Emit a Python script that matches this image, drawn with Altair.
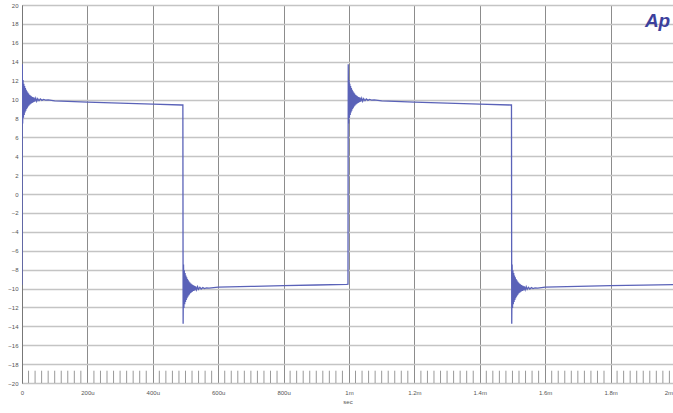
import altair as alt
import pandas as pd

# ---- data (time in ms, amplitude in V) ----
edge_t = [0.0, 0.492, 0.997, 1.497]
edge_start = [-9.60, 9.42, -9.55, 9.42]
edge_level = [9.97, -9.97, 9.97, -9.97]
edge_sign = [1, -1, 1, -1]

# ringing after each edge: time after edge (us), deviation from settled level (V)
ring_dt_us = [0.8, 2.0, 3.2, 4.4, 5.6, 6.8, 8.0, 9.2, 10.4, 11.6, 12.8, 14.0,
              15.2, 16.4, 17.6, 18.8, 20.0, 21.5, 23.0, 24.5, 26.0, 27.5, 29.0,
              31.0, 33.0, 35.0, 37.0, 39.0, 42.0, 45.0, 48.0, 52.0, 56.0, 61.0,
              66.0, 72.0, 80.0]
ring_dev = [3.75, -2.5, 2.1, -1.9, 1.7, -1.6, 1.45, -1.35, 1.25, -1.15, 1.05, -0.98,
            0.9, -0.84, 0.77, -0.71, 0.65, -0.6, 0.54, -0.5, 0.45, -0.41, 0.37,
            -0.33, 0.29, -0.26, 0.23, -0.2, 0.17, -0.15, 0.12, -0.1, 0.08, -0.06,
            0.04, -0.03, 0.0]

# settled plateaus (ms, V)
plateau_t = [[0.10, 0.20, 0.30, 0.40, 0.488],
             [0.60, 0.70, 0.80, 0.90, 0.993],
             [1.10, 1.20, 1.30, 1.40, 1.493],
             [1.60, 1.70, 1.80, 1.90, 1.991]]
plateau_v = [[9.86, 9.73, 9.62, 9.50, 9.42],
             [-9.86, -9.78, -9.70, -9.63, -9.56],
             [9.86, 9.73, 9.62, 9.50, 9.42],
             [-9.86, -9.78, -9.70, -9.64, -9.58]]

x_ticks = [0, 0.2, 0.4, 0.6, 0.8, 1.0, 1.2, 1.4, 1.6, 1.8]
y_ticks = list(range(-20, 21, 2))
minor_x = [round(i * 0.02, 3) for i in range(0, 100) if i % 10 != 0]

rows = []
for i in range(len(edge_t)):
    rows.append((edge_t[i], edge_start[i]))
    for dt, dv in zip(ring_dt_us, ring_dev):
        rows.append((edge_t[i] + dt / 1000.0, edge_level[i] + edge_sign[i] * dv))
    for t, v in zip(plateau_t[i], plateau_v[i]):
        rows.append((t, v))
wave = pd.DataFrame(rows, columns=["t", "v"])
minor = pd.DataFrame({"t": minor_x, "y0": [-20] * len(minor_x), "y1": [-18.7] * len(minor_x)})

label_expr = ("datum.value == 0 ? '0' : (datum.value < 0.999 ? "
              "format(datum.value * 1000, 'd') + 'u' : format(datum.value, '~g') + 'm')")

xscale = alt.Scale(domain=[0, 1.991], nice=False, zero=False)
yscale = alt.Scale(domain=[-20, 20], nice=False)

xaxis = alt.Axis(values=x_ticks, title="sec", labelExpr=label_expr,
                 grid=True, gridColor="#8c8c8c", gridWidth=1,
                 ticks=False, domain=False, labelFlush=False,
                 labelOverlap=False, labelFontSize=6, labelColor="#555",
                 labelPadding=6, titleFontSize=6, titleColor="#555",
                 titlePadding=3, titleFontWeight="normal")
yaxis = alt.Axis(values=y_ticks, title=None, grid=True,
                 gridColor="#c4c4c4", gridWidth=1.6, ticks=False,
                 domain=True, domainColor="#777", labelFontSize=6,
                 labelOverlap=False, labelColor="#555", labelPadding=4)

line = alt.Chart(wave).mark_line(color="#5a62b8", strokeWidth=1.3, clip=True).encode(
    x=alt.X("t:Q", scale=xscale, axis=xaxis),
    y=alt.Y("v:Q", scale=yscale, axis=yaxis),
    order="t:Q",
)

ticks = alt.Chart(minor).mark_rule(color="#999", strokeWidth=1).encode(
    x=alt.X("t:Q", scale=xscale, axis=xaxis),
    y=alt.Y("y0:Q", scale=yscale, axis=yaxis),
    y2="y1:Q",
)

logo = alt.Chart(pd.DataFrame({"s": ["Ap"]})).mark_text(
    text="Ap", font="Liberation Sans", fontSize=19, fontWeight="bold",
    fontStyle="italic", color="#3c409c", align="left", baseline="top"
).encode(x=alt.X("x:Q", scale=xscale, axis=xaxis),
         y=alt.Y("y:Q", scale=yscale, axis=yaxis)).transform_calculate(x="1.905", y="19.3")

end_label = alt.Chart(pd.DataFrame({"s": ["2m"]})).mark_text(
    text="2m", fontSize=6, color="#555", align="right", baseline="top", dy=7
).encode(x=alt.X("x:Q", scale=xscale, axis=xaxis),
         y=alt.Y("y:Q", scale=yscale, axis=yaxis)).transform_calculate(x="1.991", y="-20")

chart = alt.layer(ticks, line, logo, end_label).properties(
    width=651, height=378,
    autosize=alt.AutoSizeParams(type="none"),
    padding={"left": 22, "top": 5, "right": 0, "bottom": 30},
    background="white",
).configure_view(stroke="#999", strokeWidth=1)

chart.save("out.html", embed_options={"renderer": "svg", "actions": False})
